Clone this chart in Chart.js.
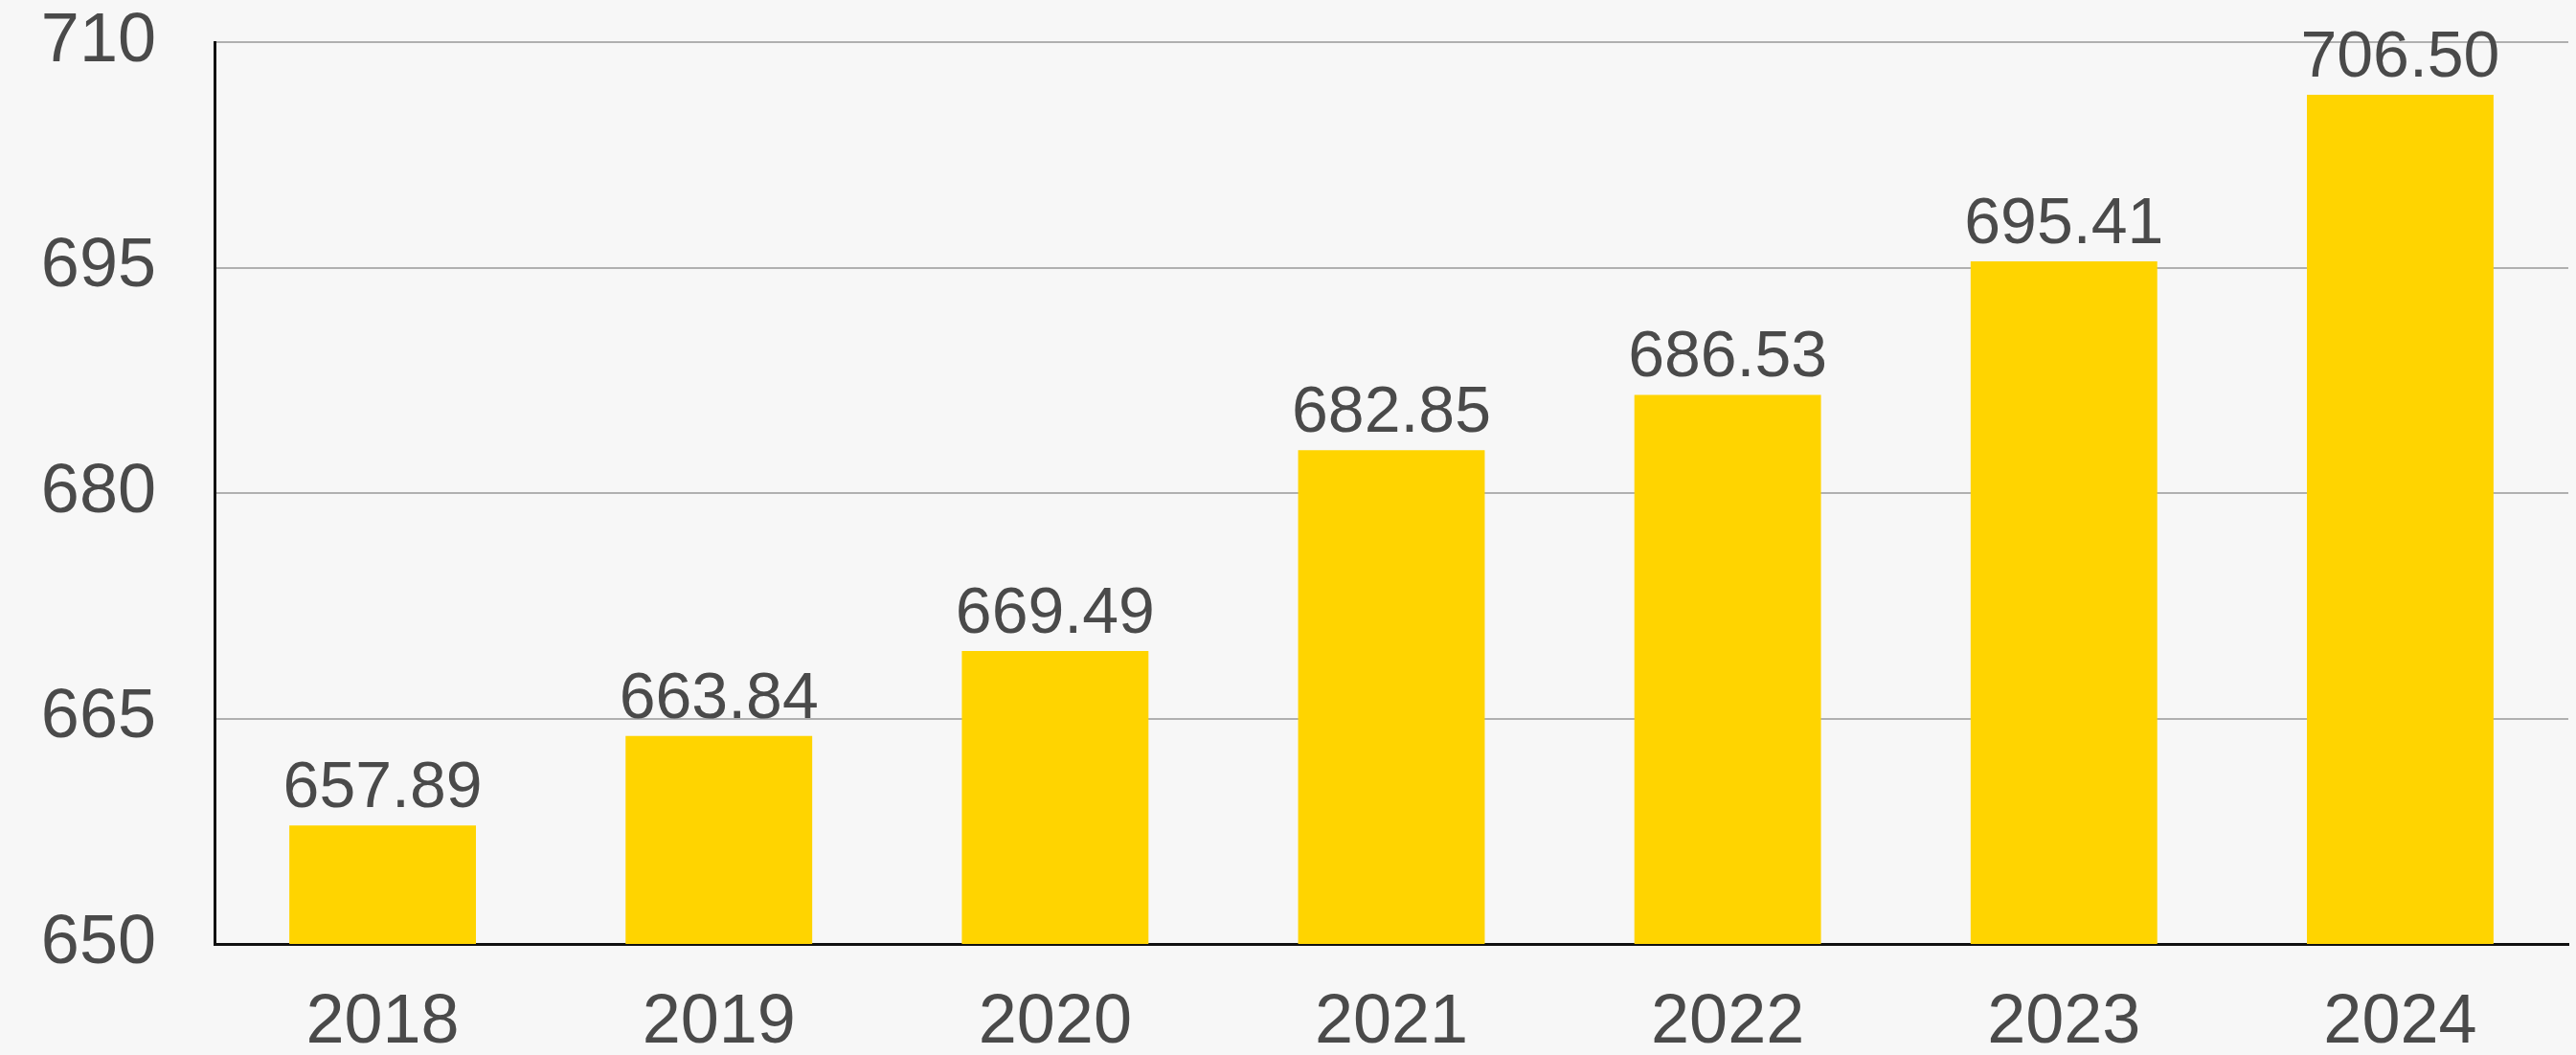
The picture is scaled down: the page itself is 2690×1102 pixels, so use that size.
<!DOCTYPE html>
<html>
<head>
<meta charset="utf-8">
<script src="https://cdn.jsdelivr.net/npm/chart.js@4.4.1/dist/chart.umd.min.js"></script>
<style>
  html, body { margin: 0; padding: 0; background: #f7f7f7; }
  #wrap { width: 2690px; height: 1102px; }
</style>
</head>
<body>
<div id="wrap"><canvas id="bar"></canvas></div>
<script>
'use strict';

// 데이터
const years = ['2018', '2019', '2020', '2021', '2022', '2023', '2024'];
const values = [657.89, 663.84, 669.49, 682.85, 686.53, 695.41, 706.50];
const yTicks = [650, 665, 680, 695, 710];

const textColor = '#4a4a4a';
const fontFamily = '"Liberation Sans", Arial, Helvetica, sans-serif';

// 막대 위에 값 표시 (datalabels 플러그인 대신 직접 그림)
const valueLabels = {
    id: 'valueLabels',
    afterDatasetsDraw(chart) {
        const ctx = chart.ctx;
        const meta = chart.getDatasetMeta(0);
        ctx.save();
        ctx.font = '68px ' + fontFamily;
        ctx.fillStyle = textColor;
        ctx.textAlign = 'center';
        ctx.textBaseline = 'alphabetic';
        meta.data.forEach(function (bar, i) {
            ctx.fillText(values[i].toFixed(2), bar.x, bar.y - 19);
        });
        ctx.restore();
    }
};

const bar = document.getElementById('bar');
const barChart = new Chart(bar, {
    type: 'bar',
    data: {
        labels: years,
        datasets: [{
            data: values,
            backgroundColor: '#ffd400',
            borderWidth: 0,
            categoryPercentage: 1,
            barPercentage: 0.555
        }]
    },
    options: {
        responsive: true,
        maintainAspectRatio: false,
        animation: false,
        layout: {
            padding: { top: 44, right: 8, bottom: 0, left: 0 }
        },
        plugins: {
            legend: { display: false },
            tooltip: { enabled: false }
        },
        scales: {
            x: {
                grid: { display: false, drawTicks: false },
                border: { display: true, color: '#111', width: 3 },
                ticks: {
                    color: textColor,
                    font: { family: fontFamily, size: 72 },
                    padding: 40,
                    maxRotation: 0
                },
                afterFit: function (scale) {
                    scale.height = 116;
                    scale.paddingLeft = 0;
                    scale.paddingRight = 0;
                }
            },
            y: {
                min: 650,
                max: 710,
                afterBuildTicks: function (scale) {
                    scale.ticks = yTicks.map(function (v) { return { value: v }; });
                },
                grid: { color: '#b0b0b0', lineWidth: 2, drawTicks: false },
                border: { display: true, color: '#111', width: 3 },
                ticks: {
                    color: textColor,
                    font: { family: fontFamily, size: 72 },
                    padding: 61
                },
                // 라벨 반높이만큼 생기는 여백 제거
                afterFit: function (scale) {
                    scale.width = 224;
                    scale.paddingTop = 0;
                    scale.paddingBottom = 0;
                }
            }
        }
    },
    plugins: [valueLabels]
});
</script>
</body>
</html>
